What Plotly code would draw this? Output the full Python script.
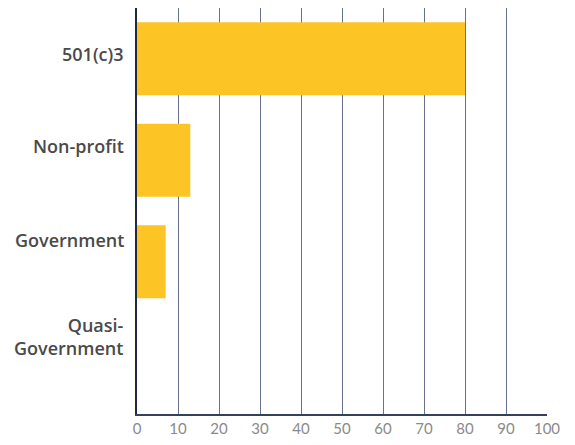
import plotly.graph_objects as go

categories = ["501(c)3", "Non-profit", "Government", "Quasi-<br>Government"]
values = [80, 13, 7, 0]
x_ticks = [0, 10, 20, 30, 40, 50, 60, 70, 80, 90, 100]

# Category labels sit slightly above their bars, drifting further up toward the bottom
label_lift_px = [5, 14, 22, 27]

fig = go.Figure(
    go.Bar(
        x=values,
        y=categories,
        orientation="h",
        marker=dict(color="#FDC425", line=dict(width=0)),
        hoverinfo="x+y",
    )
)

for cat, lift in zip(categories, label_lift_px):
    fig.add_annotation(
        text=cat,
        xref="paper",
        x=0,
        xanchor="right",
        xshift=-11,
        yref="y",
        y=cat,
        yanchor="middle",
        yshift=lift,
        align="right",
        showarrow=False,
        font=dict(family="Open Sans", size=18, color="#4a4a4a", weight=600),
    )

fig.update_layout(
    width=575,
    height=445,
    margin=dict(l=137, r=28, t=8, b=26),
    paper_bgcolor="white",
    plot_bgcolor="white",
    bargap=0.28,
    showlegend=False,
)

fig.update_xaxes(
    range=[0, 100],
    tickvals=x_ticks,
    ticks="",
    showgrid=True,
    gridcolor="#66728c",
    gridwidth=1,
    zeroline=False,
    showline=True,
    linecolor="#34405c",
    linewidth=1.5,
    tickfont=dict(family="Lato", size=15, color="#8a8a8a"),
)

fig.update_yaxes(
    categoryorder="array",
    categoryarray=categories[::-1],
    autorange=False,
    range=[-0.5, 3.5],
    showgrid=False,
    zeroline=False,
    showline=True,
    linecolor="#1f2a44",
    linewidth=1.5,
    ticks="",
    showticklabels=False,
)

fig.write_html("out.html")
